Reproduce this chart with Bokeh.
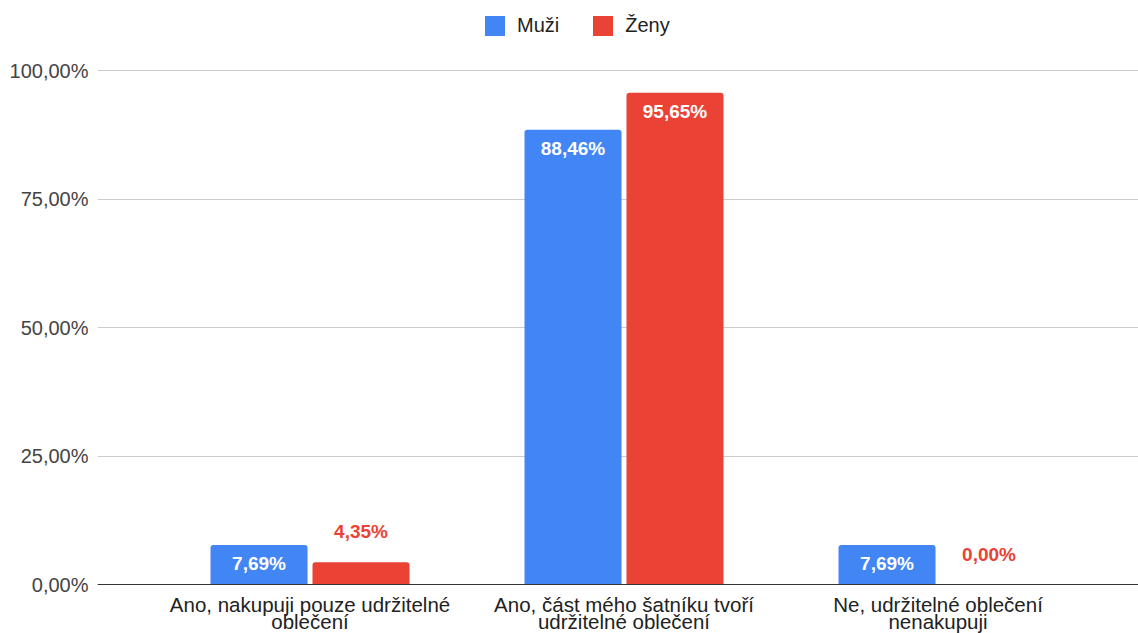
from bokeh.plotting import figure
from bokeh.models import Range1d, FixedTicker, ColumnDataSource, Legend, LegendItem, Span
from bokeh.core.properties import value
from bokeh.embed import file_html
from bokeh.resources import INLINE

categories = ["Ano, nakupuji pouze udržitelné\noblečení",
              "Ano, část mého šatníku tvoří\nudržitelné oblečení",
              "Ne, udržitelné oblečení\nnenakupuji"]
series = ["Muži", "Ženy"]
muzi = [7.69, 88.46, 7.69]
zeny = [4.35, 95.65, 0.00]
y_ticks = [0, 25, 50, 75, 100]
y_tick_labels = ["0,00%", "25,00%", "50,00%", "75,00%", "100,00%"]
colors = ["#4285F4", "#EA4335"]

FONT = "Liberation Sans"
FS = "19px"
pos = list(range(len(categories)))
bar_w = 0.309
offs = [-0.1624, 0.1624]

# frame covers the full height so that category labels and legend are not clipped;
# 0 % sits 49 px above the bottom, 100 % sits 70 px below the top (5.14 px per unit)
p = figure(width=1138, height=633, output_backend="svg", toolbar_location=None,
           x_range=Range1d(-0.6768, 2.6385), y_range=Range1d(-9.533, 113.619),
           min_border_left=97, min_border_right=0, min_border_top=0, min_border_bottom=0)
p.outline_line_color = None
p.xgrid.grid_line_color = None
p.ygrid.grid_line_color = "#cccccc"
p.ygrid.ticker = FixedTicker(ticks=y_ticks)
p.xaxis.visible = False

p.yaxis.ticker = FixedTicker(ticks=y_ticks)
p.yaxis.major_label_overrides = {t: l for t, l in zip(y_ticks, y_tick_labels)}
p.yaxis.axis_line_color = None
p.yaxis.major_tick_line_color = None
p.yaxis.major_tick_out = 0
p.yaxis.major_tick_in = 0
p.yaxis.minor_tick_line_color = None
p.yaxis.major_label_standoff = 9
p.yaxis.major_label_text_font = FONT
p.yaxis.major_label_text_font_size = "20px"
p.yaxis.major_label_text_color = "#444444"

p.add_layout(Span(location=y_ticks[0], dimension="width", line_color="#333333", line_width=1))

# category labels, two lines each, under the zero line
cx, cy, ct, co = [], [], [], []
for i, c in zip(pos, categories):
    for k, line in enumerate(c.split("\n")):
        cx.append(i)
        cy.append(0)
        ct.append(line)
        co.append(20 + 17 * k)
p.text(x="x", y="y", text="t", y_offset="o", source=ColumnDataSource(dict(x=cx, y=cy, t=ct, o=co)),
       text_align="center", text_baseline="middle", text_font=value(FONT),
       text_font_size="20.5px", text_color="#222222")

renderers = []
label_x, label_y, label_t, label_c, label_b, label_off = [], [], [], [], [], []
for vals, col, off in zip([muzi, zeny], colors, offs):
    xs = [i + off for i in pos]
    src = ColumnDataSource(dict(x=xs, top=vals))
    r = p.vbar(x="x", top="top", width=bar_w, source=src, fill_color=col,
               line_color=None, border_radius=(3, 3, 0, 0))
    renderers.append(r)
    for x, v in zip(xs, vals):
        inside = v > 6
        label_x.append(x)
        label_y.append(v)
        label_t.append(f"{v:.2f}".replace(".", ",") + "%")
        label_c.append("#ffffff" if inside else col)
        label_b.append("top" if inside else "bottom")
        label_off.append(8 if inside else -20)

lsrc = ColumnDataSource(dict(x=label_x, y=label_y, t=label_t, c=label_c, b=label_b, o=label_off))
p.text(x="x", y="y", text="t", source=lsrc, text_color="c", text_baseline="b",
       y_offset="o", text_align="center", text_font=value(FONT),
       text_font_size=FS, text_font_style="bold")

legend = Legend(items=[LegendItem(label=s, renderers=[r]) for s, r in zip(series, renderers)],
                orientation="horizontal", location=(385, 595))
legend.border_line_color = None
legend.background_fill_alpha = 0
legend.padding = 0
legend.margin = 0
legend.spacing = 31
legend.glyph_width = 25
legend.glyph_height = 25
legend.label_standoff = 10
legend.label_text_font = FONT
legend.label_text_font_size = "20px"
legend.label_text_color = "#222222"
p.add_layout(legend)

open("out.html", "w").write(file_html(p, INLINE))
